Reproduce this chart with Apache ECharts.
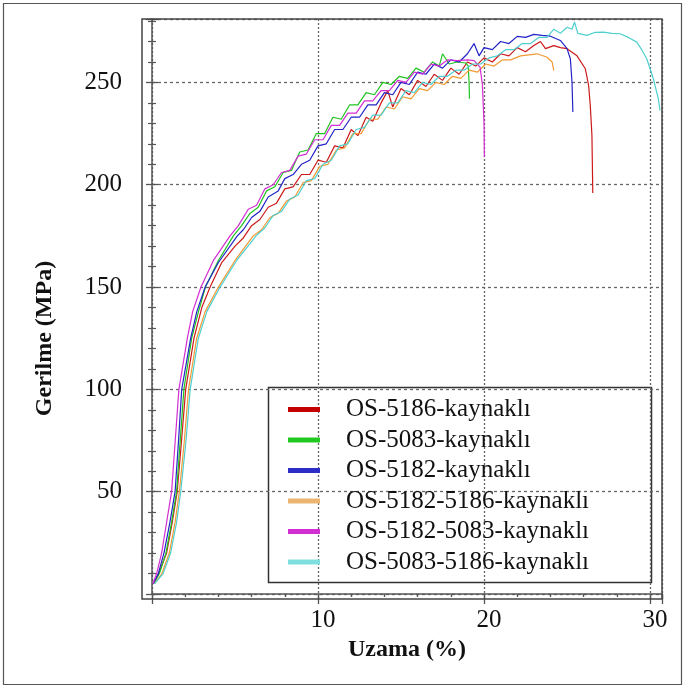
<!DOCTYPE html>
<html><head><meta charset="utf-8">
<script src="https://cdn.jsdelivr.net/npm/echarts@6/dist/echarts.min.js"></script>
<style>html,body{margin:0;padding:0;background:#fff}#c{width:685px;height:688px}</style>
</head><body><div id="c"></div>
<script>
const seriesNames = ['OS-5186-kaynaklı','OS-5083-kaynaklı','OS-5182-kaynaklı','OS-5182-5186-kaynaklı','OS-5182-5083-kaynaklı','OS-5083-5186-kaynaklı'];
const xTicks = [10, 20, 30];
const yTicks = [50, 100, 150, 200, 250];

const dataRed = [[0.1,5],[0.4,10],[0.88,20],[1.22,35],[1.52,50],[1.78,75],[2.03,100],[2.53,125],[3.0,140],[3.5,150],[4.2,162],[5.0,170],[5.5,174],[6.0,180],[6.5,183],[7.0,189],[7.5,191],[8.0,198],[8.5,199],[9.0,205],[9.5,205],[10.0,212],[10.5,211],[11.0,219],[11.5,218],[12.0,227],[12.4,224],[12.9,233],[13.3,231],[13.8,240],[14.2,246],[14.5,238],[15.0,247],[15.5,244],[16.0,251],[16.5,248],[17.0,254],[17.5,251],[18.0,257],[18.5,254],[19.0,260],[19.5,258],[20.0,262],[20.5,260],[21.0,264],[21.5,263],[22.0,267],[22.5,265],[23.0,268],[23.4,270],[23.7,266.5],[24.2,268],[24.6,267],[25.0,266.5],[25.6,263],[26.1,256.7],[26.3,248.5],[26.4,238.8],[26.5,224],[26.55,196]];

const dataGreen = [[0.1,5],[0.45,10],[0.84,20],[1.18,35],[1.48,50],[1.7,75],[1.92,100],[2.39,125],[2.8,138],[3.22,150],[4.0,163],[4.9,175],[5.4,180],[5.9,186],[6.4,189],[6.9,197],[7.4,199],[7.9,206],[8.4,207],[8.9,216],[9.4,217],[9.9,225],[10.4,225],[10.9,233],[11.4,232],[11.9,239],[12.4,239],[12.9,245],[13.4,244],[13.9,250],[14.4,249],[14.9,253],[15.4,252],[15.9,257],[16.4,255],[16.9,260],[17.3,258],[17.5,264],[17.9,259],[18.4,260],[18.9,259.5],[19.05,258],[19.1,250],[19.12,242]];

const dataBlue = [[0.08,5],[0.38,10],[0.72,20],[1.08,35],[1.39,50],[1.6,75],[1.79,100],[2.33,125],[2.7,138],[3.2,150],[4.0,162],[5.14,175],[5.5,178],[6.0,184],[6.5,187],[7.0,194],[7.6,197],[8.0,203],[8.5,205],[9.0,210],[9.5,212],[10.0,219],[10.5,220],[11.0,227],[11.5,227],[12.0,233],[12.5,233],[13.0,239],[13.5,239],[14.0,245],[14.5,244],[15.0,250],[15.5,249],[16.0,255],[16.5,254],[17.0,259],[17.5,257],[18.0,261],[18.5,260],[19.0,264],[19.4,269],[19.7,263],[20.0,267],[20.5,266],[21.0,270],[21.5,269],[22.0,272.5],[22.5,272],[23.0,273.5],[23.5,273],[24.0,272.6],[24.6,270.5],[25.0,266.5],[25.2,261.6],[25.3,250],[25.35,235.5]];

const dataOrange = [[0.15,5],[0.6,10],[1.04,20],[1.39,35],[1.65,50],[1.95,75],[2.2,100],[2.69,125],[3.2,138],[4.0,150],[5.0,163],[6.1,175],[6.6,178],[7.1,184],[7.6,186],[8.1,192],[8.6,194],[9.1,201],[9.6,202],[10.1,209],[10.6,210],[11.1,217],[11.6,218],[12.1,225],[12.6,225],[13.1,232],[13.6,232],[14.1,238],[14.6,237],[15.1,243],[15.6,242],[16.1,247],[16.6,246],[17.1,250],[17.6,249],[18.1,253],[18.6,252],[19.1,256],[19.6,255],[20.1,259],[20.6,258],[21.1,261],[21.6,261],[22.2,263],[22.7,263.5],[23.2,264],[23.8,262.3],[24.1,260],[24.2,255.8]];

const dataMagenta = [[0.05,5],[0.28,10],[0.58,20],[0.88,35],[1.18,50],[1.4,75],[1.62,100],[2.13,125],[2.45,138],[2.95,150],[3.7,163],[4.7,175],[5.2,180],[5.8,188],[6.3,190],[6.8,198],[7.3,200],[7.8,206],[8.3,207],[8.8,214],[9.3,215],[9.8,222],[10.3,222],[10.8,229],[11.3,229],[11.8,235],[12.3,235],[12.8,241],[13.3,241],[13.8,246],[14.3,246],[14.8,251],[15.3,250],[15.8,255],[16.3,254],[16.8,259],[17.3,258],[17.8,261],[18.4,260.7],[19.0,261],[19.4,260.7],[19.76,257.5],[19.9,249],[20.0,230],[20.02,213.5]];

const dataCyan = [[0.15,5],[0.67,10],[1.12,20],[1.48,35],[1.73,50],[2.05,75],[2.3,100],[2.79,125],[3.3,138],[4.1,150],[5.1,163],[6.27,175],[6.8,179],[7.3,185],[7.8,187],[8.3,193],[8.8,195],[9.3,202],[9.8,203],[10.3,210],[10.8,212],[11.3,219],[11.8,220],[12.3,227],[12.8,228],[13.3,234],[13.8,234],[14.3,240],[14.8,240],[15.3,246],[15.8,245],[16.3,250],[16.8,249],[17.3,253],[17.8,253],[18.3,256],[18.8,256],[19.3,259],[19.8,259],[20.3,262],[20.8,263],[21.3,266],[21.8,266],[22.3,269],[22.8,269],[23.3,272],[23.8,272],[24.2,276],[24.6,274],[25.0,277],[25.3,276],[25.45,279.5],[25.65,274],[26.2,273],[26.7,274.5],[27.2,274.6],[27.7,274],[28.2,273.8],[28.7,272],[29.2,269.7],[29.5,266],[29.8,261.6],[30.2,251.8],[30.5,242],[30.6,236.3]];

const lineColors = ['#cc1a1a','#1fc41f','#2323c8','#f29a35','#d22ed2','#4fcfcf'];
const legendColors = ['#c40000','#22c822','#2d2dc8','#ebb56f','#d22fd2','#7fdfdf'];
const allData = [dataRed, dataGreen, dataBlue, dataOrange, dataMagenta, dataCyan];

const FONT = '"Liberation Serif","Times New Roman",serif';
const chart = echarts.init(document.getElementById('c'), null, {renderer:'canvas'});

const gridL = 152, gridT = 19, gridR = 23, gridB = 94;

function tickFmt(list){ return function(v){ return list.indexOf(Math.round(v*1000)/1000) >= 0 ? String(v) : ''; }; }

const baseX = {type:'value', min:0, max:30.72, interval:10, gridIndex:0};
const baseY = {type:'value', min:0, max:281, interval:50, gridIndex:0};

const option = {
  animation:false,
  backgroundColor:'#fff',
  grid:{left:gridL, top:gridT, right:gridR, bottom:gridB, containLabel:false},
  xAxis:[
    Object.assign({}, baseX, {
      name:'Uzama (%)', nameLocation:'middle', nameGap:38,
      nameTextStyle:{fontFamily:FONT, fontWeight:'bold', fontSize:24, color:'#111'},
      axisLine:{show:true, onZero:false, lineStyle:{color:'#555', width:1.5}},
      axisTick:{show:true, inside:false, length:5, lineStyle:{color:'#555', width:1.3}},
      minorTick:{show:true, splitNumber:5, length:3, lineStyle:{color:'#555', width:1.2}},
      axisLabel:{show:true, margin:14, fontFamily:FONT, fontSize:25, color:'#111', formatter:tickFmt(xTicks), padding:[0,0,0,10], showMaxLabel:false},
      splitLine:{show:true, lineStyle:{color:'#666', type:[2,2], width:1.3}}
    }),
    Object.assign({}, baseX, {
      axisLine:{show:false}, axisLabel:{show:false}, splitLine:{show:false},
      axisTick:{show:true, inside:true, length:10, lineStyle:{color:'#555', width:1.3}},
      minorTick:{show:true, splitNumber:5, length:3, lineStyle:{color:'#555', width:1.2}}
    })
  ],
  yAxis:[
    Object.assign({}, baseY, {
      name:'Gerilme (MPa)', nameLocation:'middle', nameGap:95, nameRotate:90,
      nameTextStyle:{fontFamily:FONT, fontWeight:'bold', fontSize:24, color:'#111', padding:[0,64,0,0]},
      axisLine:{show:true, onZero:false, lineStyle:{color:'#555', width:1.5}},
      axisTick:{show:true, inside:false, length:6, lineStyle:{color:'#555', width:1.3}},
      minorTick:{show:true, splitNumber:5, length:4, lineStyle:{color:'#555', width:1.2}},
      axisLabel:{show:true, margin:30, fontFamily:FONT, fontSize:25, color:'#111', formatter:tickFmt(yTicks), padding:[6,0,0,0], showMaxLabel:false},
      splitLine:{show:true, lineStyle:{color:'#666', type:[3,3], width:1.3}}
    }),
    Object.assign({}, baseY, {
      position:'left',
      axisLine:{show:false}, axisLabel:{show:false}, splitLine:{show:false},
      axisTick:{show:true, inside:true, length:6, lineStyle:{color:'#555', width:1.3}},
      minorTick:{show:true, splitNumber:5, length:4, lineStyle:{color:'#555', width:1.2}}
    })
  ],
  legend:{
    orient:'vertical', left:288, top:397, padding:0,
    icon:'rect', itemWidth:32, itemHeight:5, itemGap:5.5,
    textStyle:{fontFamily:FONT, fontSize:25, color:'#111', lineHeight:25, padding:[0,0,0,21]},
    data: seriesNames.map((n,i)=>({name:n, itemStyle:{color:legendColors[i]}}))
  },
  graphic:[
    {type:'rect', silent:true, z:-1, shape:{x:3.5, y:3.5, width:678, height:681}, style:{fill:'none', stroke:'#555', lineWidth:1.2}},
    {type:'rect', silent:true, z:100, shape:{x:142, y:19, width:520, height:580}, style:{fill:'none', stroke:'#444', lineWidth:1.5}},
    {type:'rect', silent:true, z:0, shape:{x:268.5, y:387.5, width:383, height:195}, style:{fill:'#fff', stroke:'#333', lineWidth:1.5}}
  ],
  series: allData.map((d,i)=>({
    name:seriesNames[i], type:'line', data:d, xAxisIndex:0, yAxisIndex:0,
    showSymbol:false, symbol:'none', smooth:false, z:2,
    lineStyle:{color:lineColors[i], width:1.2},
    itemStyle:{color:lineColors[i]}
  }))
};
chart.setOption(option);
</script>
</body></html>
